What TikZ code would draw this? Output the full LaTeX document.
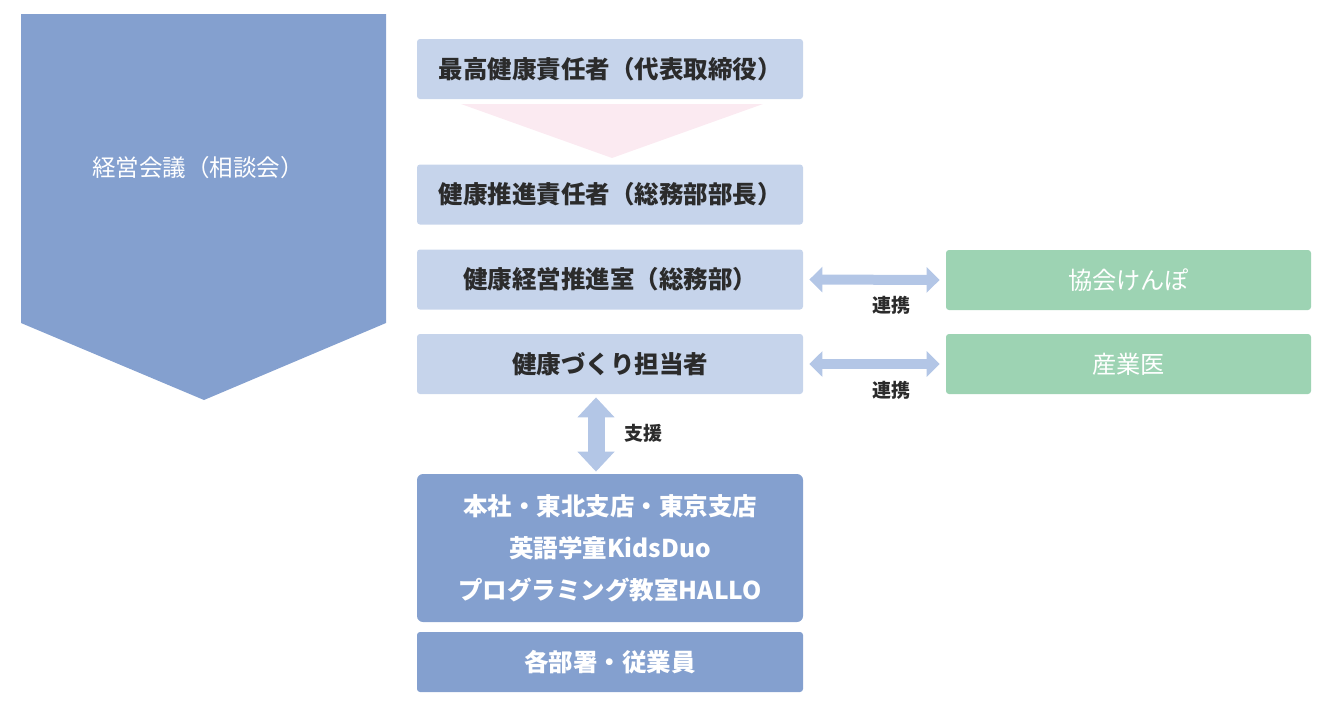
\documentclass[tikz,border=0pt]{standalone}
\usepackage{fontspec}
\setmainfont{Noto Sans CJK JP}
\usetikzlibrary{arrows.meta}
\definecolor{paleblue}{HTML}{C6D4EB}
\definecolor{deepblue}{HTML}{84A0CF}
\definecolor{mint}{HTML}{9DD3B3}
\definecolor{blush}{HTML}{FBEAF1}
\definecolor{arrowblue}{HTML}{B3C6E6}
\definecolor{inktext}{HTML}{2B2B2B}
\tikzset{
	lightbox/.style={fill=paleblue, rounded corners=1.5pt, minimum width=193pt, minimum height=30pt, inner sep=0pt, text=inktext, font=\fontsize{12.25}{14}\selectfont\bfseries},
	darkbox/.style={fill=deepblue, rounded corners=3pt, minimum width=193pt, inner sep=0pt, text=white, align=center, font=\fontsize{12.25}{21}\selectfont\bfseries},
	greenbox/.style={fill=mint, rounded corners=1.5pt, minimum width=182.5pt, minimum height=30pt, inner sep=0pt, text=white, font=\fontsize{12.1}{14}\selectfont},
	linkarrow/.style={draw=arrowblue, line width=5pt, {Triangle[length=6.5pt,width=12.5pt]}-{Triangle[length=6.5pt,width=12.5pt]}, shorten <=3pt, shorten >=3pt},
	label/.style={text=inktext, font=\fontsize{9.5}{11}\selectfont\bfseries}
}
\begin{document}
\begin{tikzpicture}[x=0.5pt, y=-0.5pt]
			%%%%% START %%%%%
			\useasboundingbox (0, 0) rectangle (1340, 707);
			
			\fill[deepblue] (21, 14) -- (386, 14) -- (386, 323) -- (204, 400) -- (21, 323) -- cycle;
			\node[text=white, font=\fontsize{11.75}{14}\selectfont] (board) at (198, 168) {経営会議（相談会）};
			
			\fill[blush] (461, 104) -- (763, 104) -- (612, 158) -- cycle;
			
			\node[lightbox] (chief) at (610, 69) {最高健康責任者（代表取締役）};
			\node[lightbox] (promoter) at (610, 194.5) {健康推進責任者（総務部部長）};
			\node[lightbox] (office) at (610, 279.5) {健康経営推進室（総務部）};
			\node[lightbox] (staff) at (610, 364) {健康づくり担当者};
			
			\node[greenbox] (kenpo) at (1128.5, 280) {協会けんぽ};
			\node[greenbox] (doctor) at (1128.5, 364) {産業医};
			
			\node[darkbox, minimum height=74pt] (sites) at (610, 548) {本社・東北支店・東京支店\\英語学童KidsDuo\\プログラミング教室HALLO};
			\node[darkbox, minimum height=30pt, rounded corners=1.5pt] (workers) at (610, 662) {各部署・従業員};
			
			\draw[linkarrow] (office.east) -- (kenpo.west);
			\draw[linkarrow] (staff.east) -- (doctor.west);
			\node[label] (link1) at (891, 305) {連携};
			\node[label] (link2) at (891, 390) {連携};
			
			\draw[draw=arrowblue, line width=8.5pt, {Triangle[length=10pt,width=18pt]}-{Triangle[length=10pt,width=18pt]}, shorten <=1.5pt, shorten >=1pt] (staff.south -| 596, 0) -- (sites.north -| 596, 0);
			\node[label] (support) at (643, 433) {支援};
			
			%%%%% END %%%%%
		\end{tikzpicture}
\end{document}
